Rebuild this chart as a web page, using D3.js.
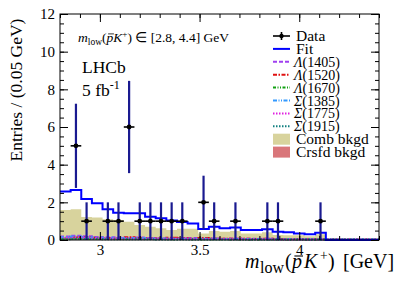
<!DOCTYPE html>
<html>
<head>
<meta charset="utf-8">
<script src="https://cdn.jsdelivr.net/npm/d3@7"></script>
<style>
  body { margin: 0; background: #fff; }
  text { font-family: "Liberation Serif", "Times New Roman", serif; }
</style>
</head>
<body>
<svg id="chart"></svg>
<script>
// binning of m_low (30 bins from 2.8 to 4.4 GeV)
var xMin = 2.8, xMax = 4.4, nBins = 30
var binW = (xMax - xMin) / nBins

var dataCounts = [0, 5, 1, 0, 1, 1, 6, 1, 1, 1, 1, 1, 0, 2, 1, 0, 1, 0, 0, 1, 1, 0, 0, 0, 1, 0, 0, 0, 0, 0]
var fitValues = [2.57, 2.66, 2.18, 1.95, 1.63, 1.45, 1.42, 1.42, 1.24, 1.15, 1.03, 0.95, 0.88, 0.58, 0.71, 0.62, 0.67, 0.53, 0.53, 0.57, 0.44, 0.41, 0.35, 0.30, 0.39, 0, 0, 0, 0, 0]
var combValues = [1.59, 1.63, 1.22, 1.2, 1.1, 1.06, 0.97, 0.8, 0.71, 0.62, 0.53, 0.6, 0.6, 0.35, 0.48, 0.44, 0.48, 0.35, 0.35, 0.41, 0.27, 0.25, 0.25, 0.2, 0.3, 0, 0, 0, 0, 0]
var crsfdValues = [0.12, 0.15, 0.12, 0.1, 0.08, 0.1, 0.12, 0.1, 0.08, 0.06, 0.1, 0.08, 0.05, 0.1, 0.08, 0.05, 0.06, 0.05, 0.04, 0.05, 0.04, 0.03, 0.03, 0.03, 0.03, 0, 0, 0, 0, 0]

var components = [
  { name: "\u039B(1405)", color: "#a040f0", dash: "4,2", vals: [0.18, 0.22, 0.2, 0.16, 0.14, 0.15, 0.12, 0.13, 0.1, 0.09, 0.1, 0.09, 0.1, 0.08, 0.08, 0.07, 0.08, 0.06, 0.06, 0.06, 0.05, 0.05, 0.05, 0.05, 0.04, 0.04, 0.03, 0.03, 0.03, 0.03] },
  { name: "\u039B(1520)", color: "#e01010", dash: "4,1.5,1.5,1.5", vals: [0.1, 0.14, 0.16, 0.12, 0.1, 0.08, 0.14, 0.1, 0.09, 0.07, 0.12, 0.09, 0.06, 0.1, 0.08, 0.06, 0.07, 0.06, 0.05, 0.06, 0.05, 0.04, 0.04, 0.04, 0.04, 0.03, 0.03, 0.03, 0.02, 0.02] },
  { name: "\u039B(1670)", color: "#10a010", dash: "3,1.5,1,1.5,1,1.5", vals: [0.06, 0.08, 0.07, 0.08, 0.06, 0.06, 0.05, 0.06, 0.05, 0.05, 0.04, 0.05, 0.04, 0.04, 0.04, 0.04, 0.03, 0.03, 0.03, 0.03, 0.03, 0.03, 0.02, 0.02, 0.02, 0.02, 0.02, 0.02, 0.02, 0.02] },
  { name: "\u03A3(1385)", color: "#3399ff", dash: "4,1.5,1,1.5,1,1.5", vals: [0.14, 0.18, 0.15, 0.13, 0.12, 0.11, 0.1, 0.1, 0.08, 0.08, 0.07, 0.07, 0.07, 0.06, 0.06, 0.05, 0.05, 0.05, 0.05, 0.04, 0.04, 0.04, 0.04, 0.03, 0.03, 0.03, 0.03, 0.03, 0.02, 0.02] },
  { name: "\u03A3(1775)", color: "#e020e0", dash: "1.5,1.5", vals: [0.1, 0.12, 0.1, 0.09, 0.09, 0.08, 0.08, 0.07, 0.07, 0.06, 0.06, 0.06, 0.05, 0.05, 0.05, 0.05, 0.04, 0.04, 0.04, 0.04, 0.03, 0.03, 0.03, 0.03, 0.03, 0.02, 0.02, 0.02, 0.02, 0.02] },
  { name: "\u03A3(1915)", color: "#108080", dash: "1.5,1.5", vals: [0.04, 0.05, 0.05, 0.05, 0.04, 0.04, 0.04, 0.04, 0.04, 0.03, 0.03, 0.03, 0.03, 0.03, 0.03, 0.03, 0.03, 0.03, 0.02, 0.02, 0.02, 0.02, 0.02, 0.02, 0.02, 0.02, 0.02, 0.02, 0.02, 0.02] }
]

var yTicks = [0, 2, 4, 6, 8, 10, 12]
var xTicks = [3, 3.5, 4]

var width = 399, height = 286
var margin = { left: 60, right: 20, top: 14, bottom: 46 }

var svg = d3.select("#chart").attr("width", width).attr("height", height)

var x = d3.scaleLinear().domain([xMin, xMax]).range([margin.left, width - margin.right])
var y = d3.scaleLinear().domain([0, 12]).range([height - margin.bottom, margin.top])

var plot = svg.append("g")

function edge(i) { return xMin + i * binW }

function stepLine(vals) {
  var pts = []
  vals.forEach(function (v, i) {
    pts.push([x(edge(i)), y(v)])
    pts.push([x(edge(i + 1)), y(v)])
  })
  return d3.line()(pts)
}

function stepArea(vals) {
  var pts = []
  vals.forEach(function (v, i) {
    pts.push([x(edge(i)), v])
    pts.push([x(edge(i + 1)), v])
  })
  return d3.area().x(d => d[0]).y0(y(0)).y1(d => y(d[1]))(pts)
}

plot.append("path").attr("d", stepArea(combValues)).attr("fill", "#d8d39d")
plot.append("path").attr("d", stepArea(crsfdValues)).attr("fill", "#d9767a")

components.forEach(function (c) {
  plot.append("path")
    .attr("d", stepLine(c.vals))
    .attr("fill", "none")
    .attr("stroke", c.color)
    .attr("stroke-width", 2)
    .attr("stroke-dasharray", c.dash)
})

plot.append("path")
  .attr("d", stepLine(fitValues))
  .attr("fill", "none")
  .attr("stroke", "#0000ff")
  .attr("stroke-width", 2)

// data points with sqrt(N) errors
var pts = dataCounts.map(function (n, i) { return { i: i, n: n } }).filter(d => d.n > 0)
var pg = plot.selectAll(".pt").data(pts).enter().append("g").attr("class", "pt")
pg.append("line")
  .attr("x1", d => x(edge(d.i))).attr("x2", d => x(edge(d.i + 1)))
  .attr("y1", d => y(d.n)).attr("y2", d => y(d.n))
  .attr("stroke", "#000").attr("stroke-width", 1.6)
pg.append("line")
  .attr("x1", d => x(edge(d.i) + binW / 2)).attr("x2", d => x(edge(d.i) + binW / 2))
  .attr("y1", d => y(d.n + Math.sqrt(d.n))).attr("y2", d => y(d.n - Math.sqrt(d.n)))
  .attr("stroke", "#1a1a90").attr("stroke-width", 2.2)
pg.append("circle")
  .attr("cx", d => x(edge(d.i) + binW / 2)).attr("cy", d => y(d.n))
  .attr("r", 2.4).attr("fill", "#000")

// axes and frame
function styleAxis(g) {
  g.select(".domain").remove()
  g.selectAll("line").attr("stroke", "#000")
  g.selectAll("text").attr("font-size", 15).attr("fill", "#000").style("font-family", "Liberation Serif")
}
var yMinor = d3.range(0, 12.01, 0.5)
var xMinor = d3.range(2.8, 4.401, 0.1)
var x0 = x(xMin), x1 = x(xMax), y0 = y(0), y1 = y(12)

svg.append("g").attr("transform", "translate(" + x0 + ",0)")
  .call(d3.axisLeft(y).tickValues(yMinor).tickSize(-4).tickFormat("")).call(styleAxis)
svg.append("g").attr("transform", "translate(" + x0 + ",0)")
  .call(d3.axisLeft(y).tickValues(yTicks).tickSize(-8).tickPadding(5)).call(styleAxis)
svg.append("g").attr("transform", "translate(" + x1 + ",0)")
  .call(d3.axisRight(y).tickValues(yMinor).tickSize(-4).tickFormat("")).call(styleAxis)
svg.append("g").attr("transform", "translate(" + x1 + ",0)")
  .call(d3.axisRight(y).tickValues(yTicks).tickSize(-8).tickFormat("")).call(styleAxis)
svg.append("g").attr("transform", "translate(0," + y0 + ")")
  .call(d3.axisBottom(x).tickValues(xMinor).tickSize(-4).tickFormat("")).call(styleAxis)
svg.append("g").attr("transform", "translate(0," + y0 + ")")
  .call(d3.axisBottom(x).tickValues(xTicks).tickSize(-8).tickPadding(4).tickFormat(d3.format("~g"))).call(styleAxis)
svg.append("g").attr("transform", "translate(0," + y1 + ")")
  .call(d3.axisTop(x).tickValues(xMinor).tickSize(-4).tickFormat("")).call(styleAxis)
svg.append("g").attr("transform", "translate(0," + y1 + ")")
  .call(d3.axisTop(x).tickValues(xTicks).tickSize(-8).tickFormat("")).call(styleAxis)

svg.append("rect")
  .attr("x", x0).attr("y", y1).attr("width", x1 - x0).attr("height", y0 - y1)
  .attr("fill", "none").attr("stroke", "#000").attr("stroke-width", 1)

// axis titles
svg.append("text")
  .attr("transform", "translate(22," + (margin.top + 76) + ") rotate(-90)")
  .attr("text-anchor", "middle").attr("font-size", 17.5)
  .text("Entries / (0.05 GeV)")

// m_low(pbar K+) label; pos = optional absolute x for each piece
function massLabel(t, size, subSize, pos) {
  var parts = [
    { s: "m", it: true },
    { s: "low", fs: subSize, dy: size * 0.25 },
    { s: "(", dy: -size * 0.25 },
    { s: "p", it: true },
    { s: "K", it: true },
    { s: "+", fs: size * 0.68, dy: -size * 0.4 },
    { s: ")", dy: size * 0.4 }
  ]
  parts.forEach(function (p, i) {
    var ts = t.append("tspan").text(p.s)
    if (p.it) ts.attr("font-style", "italic")
    if (p.fs) ts.attr("font-size", p.fs)
    if (p.dy) ts.attr("dy", p.dy)
    if (pos) ts.attr("x", pos[i])
  })
}

function overlineP(t, size) {
  // char index 5 is the "p"
  var ext = t.node().getExtentOfChar(5)
  var by = +t.attr("y") - size * 0.6
  svg.append("line")
    .attr("x1", ext.x + size * 0.12).attr("x2", ext.x + ext.width + size * 0.05)
    .attr("y1", by).attr("y2", by)
    .attr("stroke", "#000").attr("stroke-width", Math.max(0.8, size * 0.055))
}

var xt = svg.append("text").attr("y", 268).attr("font-size", 20)
massLabel(xt, 20, 16, [245, 260, 285, 292, 304, 320, 328])
xt.append("tspan").attr("x", 343).text("[GeV]")
overlineP(xt, 20)

var at = svg.append("text").attr("x", 78).attr("y", 42).attr("font-size", 13.5)
massLabel(at, 13.5, 9.5, null)
at.append("tspan").text(" \u2208  [2.8, 4.4] GeV")
overlineP(at, 13.5)

svg.append("text").attr("x", 82).attr("y", 73).attr("font-size", 17.5).text("LHCb")
var lumi = svg.append("text").attr("x", 82).attr("y", 96).attr("font-size", 17.5)
lumi.append("tspan").text("5 fb")
lumi.append("tspan").attr("font-size", 12).attr("dy", -7).text("-1")

// legend
var legendItems = [
  { name: "Data", type: "data" },
  { name: "Fit", type: "line", color: "#0000ff", dash: null }
].concat(components.map(c => ({ name: c.name, type: "line", color: c.color, dash: c.dash, greek: true })))
  .concat([
    { name: "Comb bkgd", type: "box", color: "#d8d39d" },
    { name: "Crsfd bkgd", type: "box", color: "#d9767a" }
  ])

var lg = svg.append("g").attr("transform", "translate(273,36)")
var li = lg.selectAll(".li").data(legendItems).enter().append("g")
  .attr("transform", (d, i) => "translate(0," + (i * 12.9) + ")")

li.each(function (d) {
  var g = d3.select(this)
  if (d.type == "data") {
    g.append("line").attr("x1", 0).attr("x2", 17).attr("stroke", "#000").attr("stroke-width", 1.6)
    g.append("line").attr("x1", 8.5).attr("x2", 8.5).attr("y1", -4).attr("y2", 4).attr("stroke", "#000").attr("stroke-width", 1.6)
    g.append("circle").attr("cx", 8.5).attr("r", 2.2).attr("fill", "#000")
  } else if (d.type == "line") {
    g.append("line").attr("x1", 0).attr("x2", 17).attr("stroke", d.color).attr("stroke-width", 2)
      .attr("stroke-dasharray", d.dash)
  } else {
    g.append("rect").attr("x", 0).attr("y", -5.5).attr("width", 17).attr("height", 11).attr("fill", d.color)
  }
  var t = g.append("text").attr("y", 5)
  if (d.greek) {
    t.attr("x", 21).attr("font-size", 14)
    t.append("tspan").attr("font-style", "italic").text(d.name.slice(0, 1))
    t.append("tspan").text(d.name.slice(1))
  } else {
    t.attr("x", 23).attr("font-size", 15.5).text(d.name)
  }
})
</script>
</body>
</html>
